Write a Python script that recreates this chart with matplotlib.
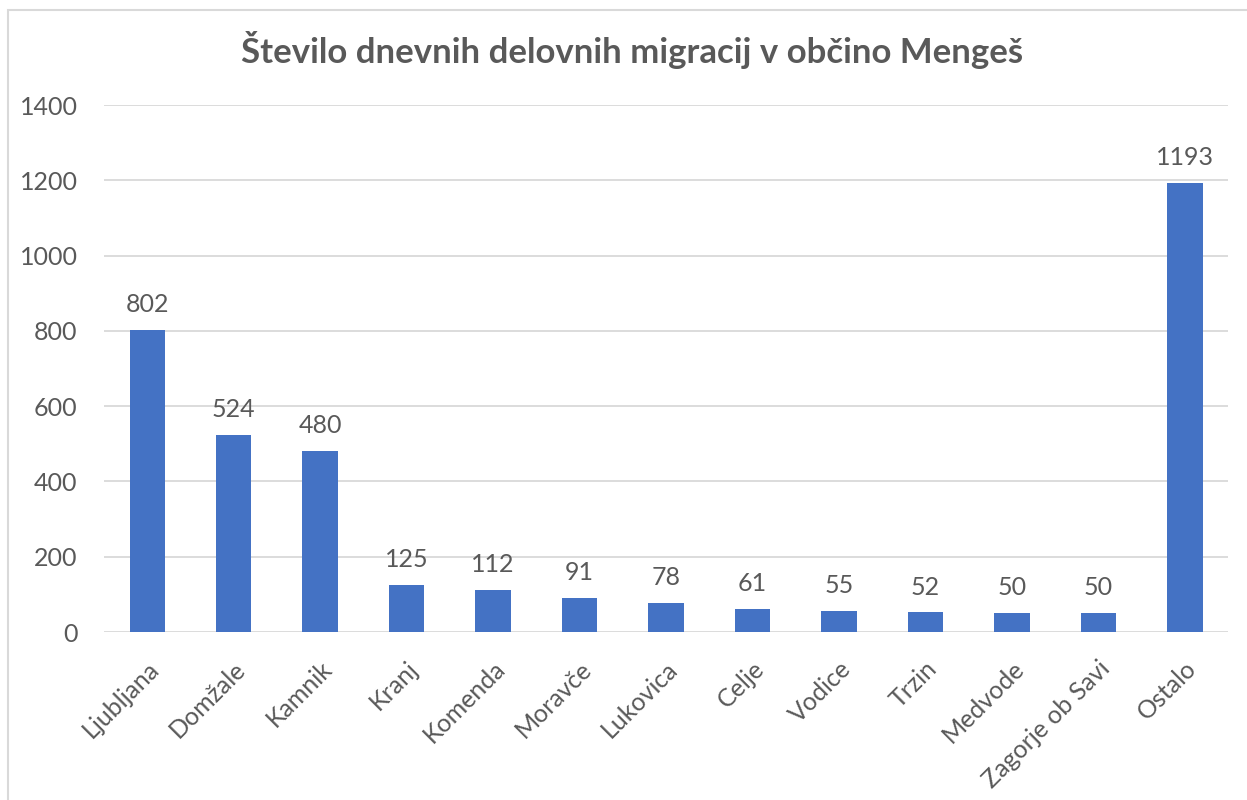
import matplotlib
matplotlib.use("Agg")
import matplotlib.pyplot as plt
from matplotlib.patches import Rectangle
import numpy as np

# podatki
obcine = ["Ljubljana", "Domžale", "Kamnik", "Kranj", "Komenda", "Moravče",
          "Lukovica", "Celje", "Vodice", "Trzin", "Medvode", "Zagorje ob Savi", "Ostalo"]
migracije = [802, 524, 480, 125, 112, 91, 78, 61, 55, 52, 50, 50, 1193]
yticki = [0, 200, 400, 600, 800, 1000, 1200, 1400]

plt.rcParams['font.family'] = ['Lato', 'DejaVu Sans']
siva = '#595959'

fig = plt.figure(figsize=(12.47, 8), dpi=100)
ax = fig.add_axes([0.0834, 0.21, 0.9014, 0.65875])

x = np.arange(len(obcine))
stolpci = ax.bar(x, migracije, width=0.41, color='#4472C4', zorder=3)
ax.bar_label(stolpci, labels=[str(v) for v in migracije], padding=10,
             fontsize=18, color=siva)

ax.set_xlim(-0.5, len(obcine) - 0.5)
ax.set_ylim(0, 1400)
ax.set_yticks(yticki)
ax.set_yticklabels([str(t) for t in yticki], fontsize=18, color=siva)
ax.set_xticks(x)
ax.set_xticklabels(obcine, rotation=45, ha='right', rotation_mode='anchor',
                   fontsize=18, color=siva)
ax.tick_params(axis='both', length=0)
ax.tick_params(axis='y', pad=19)
ax.tick_params(axis='x', pad=18)

ax.grid(axis='y', color='#d9d9d9', linewidth=1.3, zorder=0)
for s in ax.spines.values():
    s.set_visible(False)

fig.text(0.507, 0.937, "Število dnevnih delovnih migracij v občino Mengeš",
         ha='center', va='center', fontsize=25, fontweight='bold', color=siva)

# okvir grafikona
fig.patches.append(Rectangle((8 / 1247, -0.1), 1.2, 1 - 10 / 800 + 0.1,
                             transform=fig.transFigure, fill=False,
                             edgecolor='#d9d9d9', linewidth=1.5))

fig.savefig("out.png", dpi=100, facecolor='white')
